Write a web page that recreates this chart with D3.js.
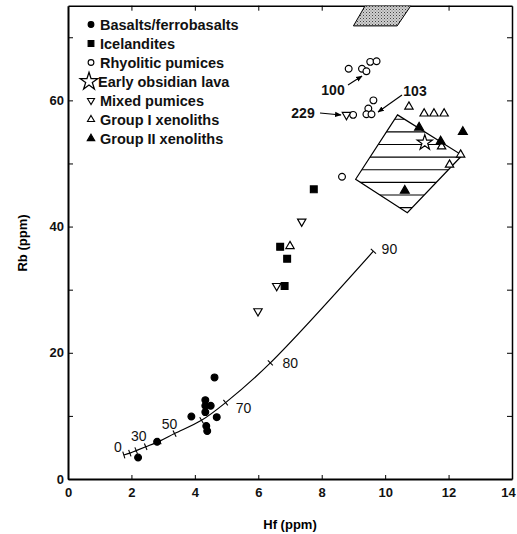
<!DOCTYPE html>
<html>
<head>
<meta charset="utf-8">
<script src="https://cdn.jsdelivr.net/npm/d3@7"></script>
<style>
  body { margin: 0; background: #fff; }
  svg { display: block; font-family: "Liberation Sans", Arial, sans-serif; }
</style>
</head>
<body>
<div id="chart"></div>
<script>
// Hf (x) vs Rb (y), ppm
const basaltsHf = [2.21, 2.81, 3.89, 4.33, 4.33, 4.50, 4.33, 4.36, 4.39, 4.69, 4.62];
const basaltsRb = [3.4, 5.9, 9.9, 12.5, 11.6, 11.6, 10.6, 8.4, 7.6, 9.8, 16.1];

const icelanditesHf = [7.75, 6.69, 6.91, 6.83];
const icelanditesRb = [45.9, 36.8, 34.9, 30.6];

const rhyoliticHf = [8.85, 9.27, 9.41, 9.53, 9.73, 9.63, 9.47, 9.41, 9.57, 8.99, 8.64];
const rhyoliticRb = [65.0, 65.0, 64.6, 66.1, 66.2, 60.0, 58.7, 57.8, 57.8, 57.7, 47.9];

const obsidianHf = [11.25];
const obsidianRb = [53.3];

const mixedHf = [8.78, 7.37, 6.58, 5.99];
const mixedRb = [57.7, 40.8, 30.6, 26.6];

const group1Hf = [7.0, 10.75, 11.23, 11.54, 11.86, 11.78, 12.38, 12.03];
const group1Rb = [36.9, 59.0, 57.9, 57.9, 57.9, 52.7, 51.4, 49.8];

const group2Hf = [11.07, 11.75, 12.45, 10.62];
const group2Rb = [55.7, 53.5, 55.0, 45.7];

// mixing curve, % marks
const mixPct = [0, 10, 20, 30, 40, 50, 60, 70, 80, 90];
const mixHf = [1.76, 1.95, 2.15, 2.45, 2.89, 3.36, 4.21, 4.97, 6.38, 9.63];
const mixRb = [3.8, 4.1, 4.5, 5.1, 6.0, 7.2, 9.3, 12.1, 18.4, 36.1];
const mixLabelled = [0, 30, 50, 70, 80, 90];

// xenolith field (hatched) and stippled field
const fieldHf = [10.39, 12.43, 10.70, 9.07];
const fieldRb = [57.7, 51.3, 42.2, 47.5];
const stippleHf = [9.0, 10.38, 10.81, 9.37];
const stippleRb = [71.8, 71.8, 75, 75];

const sampleLabels = ["100", "103", "229"];

const xTicks = [0, 2, 4, 6, 8, 10, 12, 14];
const yTicks = [0, 20, 40, 60];

const width = 517, height = 534;
const svg = d3.select("#chart").append("svg")
    .attr("width", width)
    .attr("height", height);

const x = d3.scaleLinear().domain([0, 14]).range([68, 512]);
const y = d3.scaleLinear().domain([0, 75]).range([479, 5.7]);

const defs = svg.append("defs");

defs.append("clipPath").attr("id", "plotClip")
    .append("rect")
    .attr("x", 68).attr("y", 5.7)
    .attr("width", 444).attr("height", 473.3);

const pat = defs.append("pattern")
    .attr("id", "stipple")
    .attr("patternUnits", "userSpaceOnUse")
    .attr("width", 3).attr("height", 3);
pat.append("rect").attr("width", 3).attr("height", 3).attr("fill", "#cfcfcf");
pat.append("rect").attr("x", 0).attr("y", 0).attr("width", 1).attr("height", 1).attr("fill", "#444");
pat.append("rect").attr("x", 1.5).attr("y", 1.5).attr("width", 1).attr("height", 1).attr("fill", "#777");

defs.append("marker")
    .attr("id", "arrow")
    .attr("viewBox", "0 0 10 10")
    .attr("refX", 9).attr("refY", 5)
    .attr("markerWidth", 6).attr("markerHeight", 6)
    .attr("orient", "auto")
    .append("path")
    .attr("d", "M0,1 L10,5 L0,9 Z")
    .attr("fill", "#000");

// Axes
const axisFont = g => g.selectAll("text")
    .attr("font-size", 13)
    .attr("font-weight", "bold")
    .attr("fill", "#111");

svg.append("g")
    .attr("transform", `translate(0,${y(0)})`)
    .call(d3.axisBottom(x).tickValues(xTicks).tickSize(-4).tickSizeOuter(0).tickPadding(9))
    .call(axisFont)
    .call(g => g.select(".domain").attr("stroke-width", 2))
    .call(g => g.selectAll(".tick text").filter(d => d === 14).attr("dx", -4));

svg.append("g")
    .attr("transform", `translate(${x(0)},0)`)
    .call(d3.axisLeft(y).tickValues(d3.range(0, 71, 10)).tickSize(-5).tickSizeOuter(0).tickPadding(4)
        .tickFormat(d => yTicks.includes(d) ? d : ""))
    .call(axisFont)
    .call(g => g.select(".domain").attr("stroke-width", 2));

svg.append("g")
    .attr("transform", `translate(0,${y(75)})`)
    .call(d3.axisTop(x).tickValues(xTicks.slice(1, -1)).tickSize(-5).tickSizeOuter(0).tickFormat(""))
    .call(g => g.select(".domain").attr("stroke-width", 1.5));

svg.append("g")
    .attr("transform", `translate(${x(14)},0)`)
    .call(d3.axisRight(y).tickValues(d3.range(10, 71, 10)).tickSize(-5).tickSizeOuter(0).tickFormat(""))
    .call(g => g.select(".domain").attr("stroke-width", 1.5));

svg.append("text")
    .attr("x", 290).attr("y", 529)
    .attr("text-anchor", "middle")
    .attr("font-size", 13).attr("font-weight", "bold")
    .text("Hf (ppm)");

svg.append("text")
    .attr("transform", "translate(27,243) rotate(-90)")
    .attr("text-anchor", "middle")
    .attr("font-size", 13).attr("font-weight", "bold")
    .text("Rb (ppm)");

const plot = svg.append("g").attr("clip-path", "url(#plotClip)");

// stippled field at the top
plot.append("path")
    .attr("d", d3.line()(stippleHf.map((v, i) => [x(v), y(stippleRb[i])])) + "Z")
    .attr("fill", "url(#stipple)")
    .attr("stroke", "#000")
    .attr("stroke-width", 1);

// hatched xenolith field
const fieldPts = fieldHf.map((v, i) => [x(v), y(fieldRb[i])]);
defs.append("clipPath").attr("id", "fieldClip")
    .append("path").attr("d", d3.line()(fieldPts) + "Z");

plot.append("g").attr("clip-path", "url(#fieldClip)")
    .selectAll("line")
    .data(d3.range(43, 58, 2))
    .join("line")
    .attr("x1", x(9)).attr("x2", x(12.5))
    .attr("y1", d => y(d)).attr("y2", d => y(d))
    .attr("stroke", "#000").attr("stroke-width", 1.1);

plot.append("path")
    .attr("d", d3.line()(fieldPts) + "Z")
    .attr("fill", "none")
    .attr("stroke", "#000")
    .attr("stroke-width", 1.2);

// mixing curve
const mixPts = mixHf.map((v, i) => [x(v), y(mixRb[i])]);
plot.append("path")
    .attr("d", d3.line().curve(d3.curveCatmullRom.alpha(0.5))(mixPts))
    .attr("fill", "none")
    .attr("stroke", "#000")
    .attr("stroke-width", 1.2);

mixPts.forEach((p, i) => {
    const a = mixPts[Math.max(0, i - 1)], b = mixPts[Math.min(mixPts.length - 1, i + 1)];
    const dx = b[0] - a[0], dy = b[1] - a[1];
    const len = Math.hypot(dx, dy);
    const nx = -dy / len * 3.5, ny = dx / len * 3.5;
    plot.append("line")
        .attr("x1", p[0] - nx).attr("y1", p[1] - ny)
        .attr("x2", p[0] + nx).attr("y2", p[1] + ny)
        .attr("stroke", "#000").attr("stroke-width", 1.1);
});

const mixLabelOffset = {0: [-6, -3], 30: [-7, -6], 50: [-5, -5], 70: [18, 10], 80: [20, 5], 90: [16, 3]};
mixLabelled.forEach(p => {
    const i = mixPct.indexOf(p);
    const o = mixLabelOffset[p];
    svg.append("text")
        .attr("x", x(mixHf[i]) + o[0])
        .attr("y", y(mixRb[i]) + o[1])
        .attr("text-anchor", "middle")
        .attr("font-size", 14)
        .attr("fill", "#111")
        .text(p);
});

// markers
const sym = (type, size) => d3.symbol().type(type).size(size)();

const series = [
    {name: "Basalts/ferrobasalts", hf: basaltsHf, rb: basaltsRb, d: sym(d3.symbolCircle, 36), fill: "#000", rot: 0},
    {name: "Icelandites", hf: icelanditesHf, rb: icelanditesRb, d: sym(d3.symbolSquare, 46), fill: "#000", rot: 0},
    {name: "Rhyolitic pumices", hf: rhyoliticHf, rb: rhyoliticRb, d: sym(d3.symbolCircle, 36), fill: "#fff", rot: 0},
    {name: "Early obsidian lava", hf: obsidianHf, rb: obsidianRb, d: sym(d3.symbolStar, 72), fill: "#fff", rot: 0},
    {name: "Mixed pumices", hf: mixedHf, rb: mixedRb, d: sym(d3.symbolTriangle, 30), fill: "#fff", rot: 180},
    {name: "Group I xenoliths", hf: group1Hf, rb: group1Rb, d: sym(d3.symbolTriangle, 30), fill: "#fff", rot: 0},
    {name: "Group II xenoliths", hf: group2Hf, rb: group2Rb, d: sym(d3.symbolTriangle, 34), fill: "#000", rot: 0}
];

series.forEach(s => {
    plot.append("g")
        .selectAll("path")
        .data(s.hf.map((v, i) => [v, s.rb[i]]))
        .join("path")
        .attr("d", s.d)
        .attr("transform", d => `translate(${x(d[0])},${y(d[1])}) rotate(${s.rot})`)
        .attr("fill", s.fill)
        .attr("stroke", "#000")
        .attr("stroke-width", 1.2);
});

// legend
const legend = svg.append("g");
series.forEach((s, i) => {
    const ly = 24.5 + i * 19;
    const star = s.name === "Early obsidian lava";
    legend.append("path")
        .attr("d", star ? sym(d3.symbolStar, 95) : s.d)
        .attr("transform", `translate(${star ? 89 : 91},${ly}) rotate(${s.rot}) scale(${star ? 1 : 0.85})`)
        .attr("fill", s.fill)
        .attr("stroke", "#000")
        .attr("stroke-width", 1.3);
    legend.append("text")
        .attr("x", star ? 98 : 100)
        .attr("y", ly + 5)
        .attr("font-size", 14.5)
        .attr("font-weight", "bold")
        .attr("fill", "#111")
        .text(s.name);
});

// sample annotations
const annot = [
    {label: sampleLabels[0], tx: 333, ty: 95, from: [348, 85], to: [362, 76]},
    {label: sampleLabels[1], tx: 415, ty: 96, from: [402, 95], to: [378, 112]},
    {label: sampleLabels[2], tx: 303, ty: 118, from: [320, 113], to: [341, 115]}
];
annot.forEach(a => {
    svg.append("text")
        .attr("x", a.tx).attr("y", a.ty)
        .attr("text-anchor", "middle")
        .attr("font-size", 14)
        .attr("font-weight", "bold")
        .attr("fill", "#111")
        .text(a.label);
    svg.append("line")
        .attr("x1", a.from[0]).attr("y1", a.from[1])
        .attr("x2", a.to[0]).attr("y2", a.to[1])
        .attr("stroke", "#000").attr("stroke-width", 1.1)
        .attr("marker-end", "url(#arrow)");
});
</script>
</body>
</html>
